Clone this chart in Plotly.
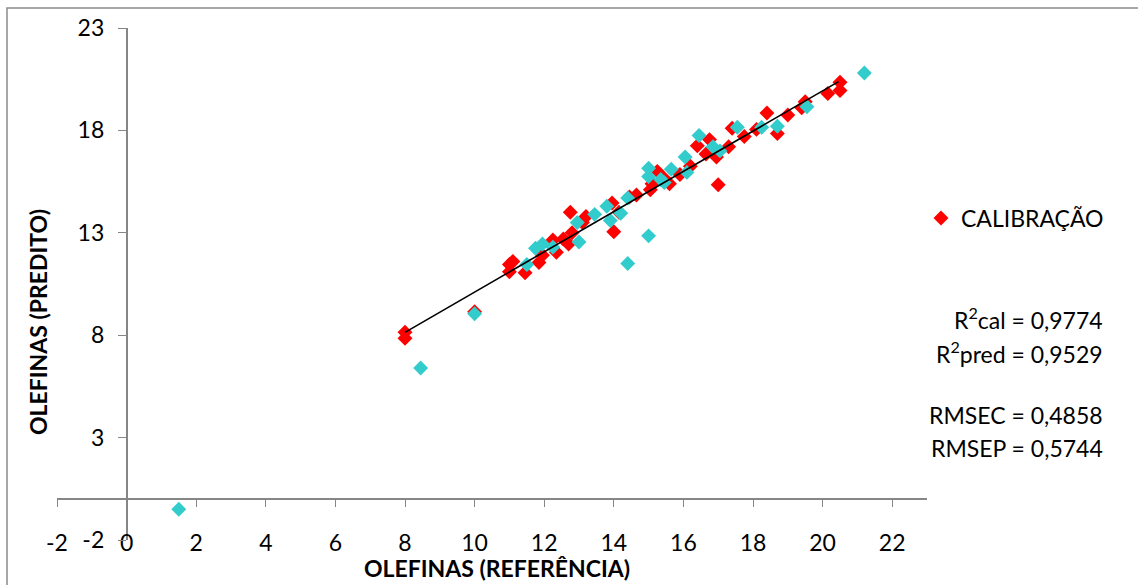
import plotly.graph_objects as go

# ---------------- data ----------------
cal_x = [8.0, 8.0, 10.0, 11.0, 11.1, 11.0, 11.45, 11.85, 11.95, 12.25, 12.35, 12.55,
         12.7, 12.75, 12.8, 13.1, 13.2, 14.0, 13.95, 14.15, 14.45, 14.65, 15.1, 15.05,
         15.25, 15.45, 15.6, 15.9, 16.2, 16.4, 16.75, 16.65, 16.95, 17.0, 17.3, 17.4,
         17.75, 18.1, 18.4, 18.7, 19.0, 19.4, 19.5, 20.15, 20.5, 20.5]
cal_y = [8.15, 7.85, 9.15, 11.45, 11.6, 11.1, 11.05, 11.55, 11.9, 12.65, 12.05, 12.7,
         12.45, 14.0, 13.0, 13.5, 13.8, 13.05, 14.45, 14.0, 14.75, 14.85, 15.4, 15.1,
         16.0, 15.65, 15.4, 15.85, 16.25, 17.25, 17.55, 16.85, 16.7, 15.35, 17.2, 18.1,
         17.7, 18.05, 18.85, 17.85, 18.75, 19.1, 19.4, 19.8, 20.35, 19.95]

val_x = [1.5, 8.45, 10.0, 11.5, 11.75, 11.95, 12.25, 13.0, 12.95, 13.45, 13.8, 13.9,
         14.2, 14.4, 14.4, 15.0, 15.0, 15.0, 15.35, 15.45, 15.65, 16.05, 16.1, 16.45,
         16.85, 17.05, 17.55, 18.25, 18.7, 19.55, 21.2]
val_y = [-0.5, 6.4, 9.05, 11.45, 12.25, 12.45, 12.3, 12.55, 13.5, 13.9, 14.3, 13.6,
         13.95, 14.7, 11.5, 12.85, 16.15, 15.75, 15.6, 15.45, 16.1, 16.7, 15.95, 17.75,
         17.2, 17.0, 18.15, 18.15, 18.2, 19.15, 20.8]

trend_x = [8.0, 20.46]
trend_y = [8.14, 20.38]

x_ticks = [-2, 0, 2, 4, 6, 8, 10, 12, 14, 16, 18, 20, 22]
x_tick_labels = ["-2", "0", "2", "4", "6", "8", "10", "12", "14", "16", "18", "20", "22"]
y_ticks = [-2, 3, 8, 13, 18, 23]
y_tick_labels = ["-2", "3", "8", "13", "18", "23"]

stats_lines = ["R<sup>2</sup>cal = 0,9774", "R<sup>2</sup>pred = 0,9529",
               "RMSEC = 0,4858", "RMSEP = 0,5744"]

# ---------------- layout helpers ----------------
W, H = 1138, 585
ML, MR, MT, MB = 57, 211, 28, 45
PW = W - ML - MR
PH = H - MT - MB


def pxx(x):
    return (x - ML) / PW


def pxy(y):
    return (H - MB - y) / PH


FONT = "Lato, 'Open Sans', sans-serif"
AXC = "#868686"
FS = 23

fig = go.Figure()
fig.add_trace(go.Scatter(x=cal_x, y=cal_y, mode="markers", name="CALIBRAÇÃO",
                         marker=dict(symbol="diamond", size=11.5, color="#FF0000",
                                     line=dict(width=0))))
fig.add_trace(go.Scatter(x=val_x, y=val_y, mode="markers", name="PREDIÇÃO",
                         showlegend=False,
                         marker=dict(symbol="diamond", size=11.5, color="#33CCCC",
                                     line=dict(width=0))))
# trend line drawn on the overlaid axis that carries the axis line at y = 0
fig.add_trace(go.Scatter(x=trend_x, y=trend_y, mode="lines", showlegend=False,
                         xaxis="x2", yaxis="y",
                         line=dict(color="black", width=1.6)))

zero_pos_x = (0 - (-2)) / 25.0
zero_pos_y = (0 - (-2)) / 25.0

fig.update_layout(
    width=W, height=H,
    margin=dict(l=ML, r=MR, t=MT, b=MB, pad=0),
    paper_bgcolor="white", plot_bgcolor="white",
    font=dict(family=FONT, size=FS, color="black"),
    xaxis=dict(range=[-2, 23], tickvals=x_ticks, ticktext=x_tick_labels,
               showgrid=False, zeroline=False,
               showline=False, ticks="", anchor="free", position=0.026,
               tickfont=dict(size=FS)),
    xaxis2=dict(range=[-2, 23], overlaying="x", tickvals=x_ticks, showgrid=False,
                zeroline=False, showline=True, linecolor=AXC, linewidth=1.5,
                ticks="outside", ticklen=7, tickcolor=AXC, tickwidth=1.2,
                showticklabels=False, anchor="free", position=zero_pos_y, side="bottom"),
    yaxis=dict(range=[-2, 23], tickvals=y_ticks, ticktext=y_tick_labels,
               showgrid=False, zeroline=False,
               showline=True, linecolor=AXC, linewidth=1.5, ticks="outside",
               ticklen=8, tickcolor=AXC, tickwidth=1.2, anchor="free",
               ticklabelstandoff=9,
               position=zero_pos_x, tickfont=dict(size=FS)),
    showlegend=True,
    legend=dict(x=pxx(921), y=pxy(218), xanchor="left", yanchor="middle",
                font=dict(size=FS), bgcolor="rgba(0,0,0,0)", borderwidth=0),
)

annotations = [
    dict(text="<b>OLEFINAS (REFERÊNCIA)</b>", x=pxx(497), y=pxy(568),
         xanchor="center", yanchor="middle", font=dict(size=FS)),
    dict(text="<b>OLEFINAS (PREDITO)</b>", x=pxx(38), y=pxy(322), textangle=-90,
         xanchor="center", yanchor="middle", font=dict(size=FS)),
]
for txt, yy in zip(stats_lines, [318, 352, 415, 448]):
    annotations.append(dict(text=txt, x=pxx(1105), y=pxy(yy), xanchor="right",
                            yanchor="middle", font=dict(size=FS)))
for a in annotations:
    a.update(xref="paper", yref="paper", showarrow=False)
fig.update_layout(annotations=annotations)

fig.add_shape(type="rect", xref="paper", yref="paper",
              x0=pxx(7), x1=pxx(1150), y0=pxy(620), y1=pxy(8),
              line=dict(color="#8c8c8c", width=1.5), fillcolor="rgba(0,0,0,0)",
              layer="below")

fig.write_html("out.html")
